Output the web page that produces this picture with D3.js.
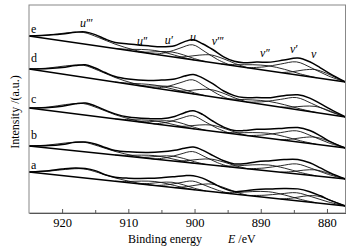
<!DOCTYPE html>
<html><head><meta charset="utf-8">
<script src="https://cdn.jsdelivr.net/npm/d3@7"></script>
<style>body{margin:0;background:#fff}svg{display:block}</style>
</head><body><svg id="chart" width="350" height="249"></svg>
<script>
// ---- data ----
const spectra = ["e", "d", "c", "b", "a"];
const baseLeft = [177, 144, 105, 67, 41];   // baseline intensity at 925 eV
const baseRight = [131, 96, 65, 34, 7];     // baseline intensity at 877.2 eV
const envEnergy = [925, 922, 920, 918, 916.5, 915, 913.5, 912, 910, 907, 905, 903, 901.5, 900.2, 898.8, 897.2, 895.6, 894, 892.6, 890.6, 888.5, 886.5, 884.4, 882.6, 881, 879.5, 877.2];
const envE = [0, 3.9, 6.8, 10.5, 12.2, 11, 8, 6, 6.5, 7.5, 8.5, 11.5, 17, 20, 17.5, 13, 7.5, 4.5, 4.5, 7, 9, 13, 17, 15, 10.5, 6, 0];
const envD = [0, 3.5, 6.5, 10.5, 12.8, 11, 8, 5.5, 5, 6.5, 9, 12, 16.5, 19.5, 17.5, 13, 7.5, 4.5, 4, 6, 8, 12, 15, 13.5, 9.5, 5.5, 0];
const envC = [0, 3, 6, 10, 12, 10.5, 7.5, 5, 3.5, 4.5, 6, 10, 15, 18, 15.5, 10, 5.5, 3.5, 4.5, 7.5, 9.5, 12, 14.5, 13, 9, 4.5, 0];
const envB = [0, 2.5, 5, 8.5, 9.8, 9, 6.5, 4.5, 4.5, 6, 8, 11, 14, 16, 14, 9.5, 5.5, 3.5, 4.5, 8, 10.5, 13, 14.5, 12.5, 8.5, 4.5, 0];
const envA = [0, 3.5, 6.5, 9, 9.5, 8.5, 5.5, 4, 4.5, 6.5, 8.5, 11, 13, 14, 12.5, 8.5, 4.5, 2.5, 4, 7, 9, 11, 12, 10.5, 7.5, 4, 0];
const envelopes = [envE, envD, envC, envB, envA];

// component energies (u''', u'', u', u, v''', v'', v', v)
const compNames = ["u\u2032\u2032\u2032", "u\u2032\u2032", "u\u2032", "u", "v\u2032\u2032\u2032", "v\u2032\u2032", "v\u2032", "v"];
const compEnergy = [
  [925, 922, 919.5, 916.8, 914.5, 912, 909, 906],
  [912, 910, 908, 906, 904, 902, 900],
  [908.5, 906.8, 905.1, 903.4, 901.7, 900, 898.3],
  [906, 904.1, 902.2, 900.3, 898.4, 896.5, 894.6],
  [903, 901.2, 899.3, 897.5, 895.7, 893.8, 892],
  [896, 893.6, 891.2, 888.8, 886.4, 884, 881.6],
  [892, 889.5, 887, 884.6, 882.3, 879.8, 877.2],
  [887, 885.3, 883.5, 881.8, 880.1, 878.6, 877.2]
];
const compE = [
  [0, 3.8, 8.3, 11.5, 8.6, 4.4, 1.2, 0],
  [0, 1.1, 2.9, 3.8, 2.9, 1.1, 0],
  [0, 1.4, 3.6, 4.8, 3.6, 1.4, 0],
  [0, 3.8, 9.8, 15, 9.8, 3.8, 0],
  [0, 2.3, 5.6, 7.5, 5.6, 2.3, 0],
  [0, 1.5, 3.8, 5, 3.8, 1.5, 0],
  [0, 3.3, 8.5, 13, 9.1, 3.6, 0],
  [0, 2.4, 6, 8, 6, 2.8, 0]
];
const compD = [
  [0, 4, 8.6, 12, 9, 4.6, 1.2, 0],
  [0, 0.9, 2.2, 3, 2.2, 0.9, 0],
  [0, 1.2, 3, 4, 3, 1.2, 0],
  [0, 3.5, 9.1, 14, 9.1, 3.5, 0],
  [0, 2.1, 5.3, 7, 5.3, 2.1, 0],
  [0, 1.2, 3, 4, 3, 1.2, 0],
  [0, 3, 7.8, 12, 8.4, 3.4, 0],
  [0, 1.8, 4.5, 6, 4.5, 2.1, 0]
];
const compC = [
  [0, 3.5, 8, 11.3, 8.5, 4.2, 1.1, 0],
  [0, 0.9, 2.3, 3.1, 2.3, 0.9, 0],
  [0, 1.5, 3.8, 5, 3.8, 1.5, 0],
  [0, 3.3, 8.5, 13, 8.5, 3.3, 0],
  [0, 1.8, 4.5, 6, 4.5, 1.8, 0],
  [0, 1.5, 3.7, 5, 3.7, 1.5, 0],
  [0, 2.8, 7.2, 11, 7.7, 3.1, 0],
  [0, 2.1, 5.3, 7, 5.3, 2.5, 0]
];
const compB = [
  [0, 3.1, 6.8, 9.5, 7.1, 3.6, 1, 0],
  [0, 1, 2.6, 3.5, 2.6, 1, 0],
  [0, 1.5, 3.7, 4.9, 3.7, 1.5, 0],
  [0, 2.9, 7.5, 11.5, 7.5, 2.9, 0],
  [0, 1.8, 4.4, 5.9, 4.4, 1.8, 0],
  [0, 1.8, 4.5, 6, 4.5, 1.8, 0],
  [0, 2.5, 6.5, 10, 7, 2.8, 0],
  [0, 1.8, 4.5, 6, 4.5, 2.1, 0]
];
const compA = [
  [0, 3, 6.5, 9, 6.8, 3.4, 0.9, 0],
  [0, 1.2, 3, 4, 3, 1.2, 0],
  [0, 1.5, 3.8, 5.1, 3.8, 1.5, 0],
  [0, 2.1, 5.5, 8.5, 5.5, 2.1, 0],
  [0, 2.3, 5.6, 7.5, 5.6, 2.3, 0],
  [0, 1.8, 4.5, 6, 4.5, 1.8, 0],
  [0, 2, 5.2, 8, 5.6, 2.2, 0],
  [0, 2.1, 5.3, 7, 5.3, 2.5, 0]
];
const components = [compE, compD, compC, compB, compA];

const peakLabelEnergy = [917.3, 908.7, 904.5, 900.7, 897.4, 890.1, 885.6, 882.4];
const peakLabelLevel = [186, 168, 169, 172, 168, 156, 160, 155];
const majorTicks = [920, 910, 900, 890, 880];
const minorTicks = [915, 905, 895, 885];
const xTitle = "Binding energy";
const yTitle = "Intensity /(a.u.)";

// ---- layout ----
const L = 29, R = 345.5, T = 5, B = 213;
const svg = d3.select("#chart");
const x = d3.scaleLinear().domain([925, 877.2]).range([L, R]);
const y = d3.scaleLinear().domain([0, 208]).range([B, T]);
const font = "'Liberation Serif','Times New Roman',serif";

function baseAt(i, E) {
  return baseLeft[i] + (baseRight[i] - baseLeft[i]) * (925 - E) / (925 - 877.2);
}
const line = d3.line().x(d => x(d[0])).y(d => y(d[1])).curve(d3.curveCatmullRom.alpha(0.5));

const g = svg.append("g");
spectra.forEach((s, i) => {
  components[i].forEach((hs, k) => {
    const pts = compEnergy[k].map((E, j) => [E, baseAt(i, E) + hs[j]]);
    g.append("path").attr("d", line(pts)).attr("fill", "none")
      .attr("stroke", "#111").attr("stroke-width", 0.9);
  });
  g.append("path").attr("d", d3.line().x(d => x(d[0])).y(d => y(d[1]))([[925, baseLeft[i]], [877.2, baseRight[i]]]))
    .attr("fill", "none").attr("stroke", "#000").attr("stroke-width", 1.4);
  const env = envEnergy.map((E, j) => [E, baseAt(i, E) + envelopes[i][j]]);
  g.append("path").attr("d", line(env)).attr("fill", "none")
    .attr("stroke", "#000").attr("stroke-width", 1.5);
});

// spectrum letters
const letterOffset = [3, 7, 5, 7, 3];
spectra.forEach((s, i) => {
  svg.append("text").attr("x", 31).attr("y", y(baseLeft[i]) - letterOffset[i])
    .attr("font-family", font).attr("font-size", 12).text(s);
});

// peak labels
compNames.forEach((n, k) => {
  svg.append("text").attr("x", x(peakLabelEnergy[k])).attr("y", y(peakLabelLevel[k]))
    .attr("font-family", font).attr("font-style", "italic").attr("font-size", 12)
    .attr("letter-spacing", "-0.5px").text(n);
});

// frame
svg.append("rect").attr("x", L).attr("y", T).attr("width", R - L).attr("height", B - T)
  .attr("fill", "none").attr("stroke", "#888").attr("stroke-width", 1);

// axes
const ax = svg.append("g").attr("transform", `translate(0,${B})`)
  .call(d3.axisBottom(x).tickValues(majorTicks).tickSizeInner(-4).tickSizeOuter(0).tickPadding(5.5).tickFormat(d3.format("d")));
ax.select(".domain").attr("stroke", "#555");
ax.selectAll(".tick line").attr("stroke", "#555");
ax.selectAll("text").attr("font-family", font).attr("font-size", 12.5).attr("fill", "#000");
const axm = svg.append("g").attr("transform", `translate(0,${B})`)
  .call(d3.axisBottom(x).tickValues(minorTicks).tickSizeInner(-3).tickSizeOuter(0).tickFormat(""));
axm.select(".domain").remove();
axm.selectAll(".tick line").attr("stroke", "#555");

// titles
const xt = svg.append("text").attr("x", 128).attr("y", 243)
  .attr("font-family", font).attr("font-size", 12);
xt.append("tspan").text(xTitle);
xt.append("tspan").attr("x", 228).attr("font-style", "italic").text("E");
xt.append("tspan").attr("dx", 3).text("/eV");

svg.append("text").attr("transform", "translate(19,112) rotate(-90)").attr("text-anchor", "middle")
  .attr("font-family", font).attr("font-size", 12).text(yTitle);
</script></body></html>
